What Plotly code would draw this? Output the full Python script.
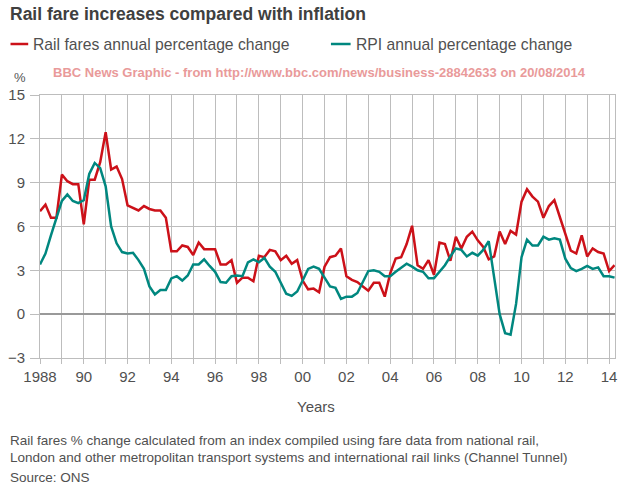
import plotly.graph_objects as go

# Quarterly annual % change, 1988 Q1 .. 2014 Q2
rail_fares = [
    7.05, 7.5, 6.6, 6.6,
    9.55, 9.1, 8.9, 8.9,
    6.15, 9.2, 9.2, 10.4,
    12.45, 9.9, 10.1, 9.25,
    7.45, 7.25, 7.1, 7.4,
    7.2, 7.1, 7.1, 6.6,
    4.3, 4.3, 4.7, 4.6,
    4.05, 4.9, 4.45, 4.45,
    4.45, 3.4, 3.4, 3.7,
    2.15, 2.5, 2.5, 2.25,
    4.0, 3.9, 4.4, 4.3,
    3.7, 4.0, 3.45, 3.7,
    2.3, 1.7, 1.75, 1.5,
    3.25, 3.9, 4.0, 4.5,
    2.6, 2.35, 2.2, 1.9,
    1.6, 2.15, 2.15, 1.2,
    2.8, 3.8, 3.9, 4.8,
    6.05, 3.35, 3.1, 3.7,
    2.7, 4.9, 4.8, 3.65,
    5.3, 4.5, 5.3, 5.65,
    5.05, 4.6, 3.75, 3.95,
    5.65, 4.8, 5.7, 5.45,
    7.7, 8.55, 8.05, 7.7,
    6.6, 7.4, 7.8, 6.65,
    5.5, 4.35, 4.15, 5.4,
    3.95, 4.5, 4.25, 4.15,
    2.95, 3.35,
]

rpi = [
    3.4, 4.15, 5.4, 6.55,
    7.75, 8.2, 7.75, 7.6,
    7.8, 9.6, 10.35, 10.0,
    8.75, 6.0, 4.85, 4.25,
    4.15, 4.2, 3.7, 3.1,
    1.9, 1.35, 1.65, 1.65,
    2.45, 2.6, 2.3, 2.65,
    3.4, 3.4, 3.75, 3.3,
    2.9, 2.2, 2.15, 2.6,
    2.65, 2.6, 3.55, 3.75,
    3.55, 3.85, 3.25, 2.9,
    2.2, 1.4, 1.25, 1.55,
    2.3, 3.1, 3.25, 3.1,
    2.5, 1.9, 1.8, 1.05,
    1.2, 1.2, 1.45, 2.2,
    2.95, 3.0, 2.9, 2.6,
    2.6, 2.9, 3.2, 3.45,
    3.25, 3.0, 2.9, 2.45,
    2.45, 2.9, 3.35, 3.95,
    4.5, 4.4, 3.95, 4.2,
    4.0, 4.4, 5.0, 2.5,
    0.0, -1.3, -1.4, 0.7,
    3.9, 5.1, 4.7, 4.7,
    5.3, 5.1, 5.2, 5.1,
    3.8, 3.15, 2.95, 3.1,
    3.3, 3.1, 3.2, 2.6,
    2.6, 2.5,
]

start_year = 1988
quarters = [start_year + i / 4 for i in range(len(rail_fares))]

x_tick_vals = list(range(1988, 2015, 2))
x_tick_text = ["1988", "90", "92", "94", "96", "98", "00", "02", "04", "06", "08", "10", "12", "14"]
y_tick_vals = [-3, 0, 3, 6, 9, 12, 15]

RED = "#cc1119"
TEAL = "#00877f"
GRID = "#bdbdbd"
FONT = "Liberation Sans, Arial, Helvetica, sans-serif"

W, H = 625, 487
L, R, T, B = 32, 8, 95, 129
PW, PH = W - L - R, H - T - B


def px_x(p):
    return (p - L) / PW


def px_y(p):
    return (H - B - p) / PH


fig = go.Figure()
fig.add_trace(go.Scatter(x=quarters, y=rail_fares, mode="lines",
                         line=dict(color=RED, width=2.5),
                         name="Rail fares annual percentage change", showlegend=False))
fig.add_trace(go.Scatter(x=quarters, y=rpi, mode="lines",
                         line=dict(color=TEAL, width=2.5),
                         name="RPI annual percentage change", showlegend=False))

annotations = [
    dict(text="<b>Rail fare increases compared with inflation</b>", x=px_x(-1), y=px_y(14),
         font=dict(size=17.5, color="#404040", family=FONT)),
    dict(text="Rail fares annual percentage change", x=px_x(23), y=px_y(45),
         font=dict(size=15.7, color="#505050", family=FONT)),
    dict(text="RPI annual percentage change", x=px_x(351), y=px_y(45),
         font=dict(size=15.7, color="#505050", family=FONT)),
    dict(text="<b>BBC News Graphic - from http://www.bbc.com/news/business-28842633 on 20/08/2014</b>",
         x=px_x(43), y=px_y(73),
         font=dict(size=13, color="#e99a9a", family=FONT)),
    dict(text="%", x=px_x(4), y=px_y(77), font=dict(size=13, color="#555555", family=FONT)),
    dict(text="Years", x=px_x(313), y=px_y(406), xanchor="center",
         font=dict(size=15, color="#505050", family=FONT)),
    dict(text="Rail fares % change calculated from an index compiled using fare data from national rail,",
         x=px_x(-1), y=px_y(440), font=dict(size=13.5, color="#505050", family=FONT)),
    dict(text="London and other metropolitan transport systems and international rail links (Channel Tunnel)",
         x=px_x(-1), y=px_y(457), font=dict(size=13.5, color="#505050", family=FONT)),
    dict(text="Source: ONS", x=px_x(-1), y=px_y(477), font=dict(size=13.5, color="#505050", family=FONT)),
]
for a in annotations:
    a.setdefault("xanchor", "left")
    a.update(xref="paper", yref="paper", yanchor="middle", showarrow=False)

shapes = [
    dict(type="line", xref="paper", yref="paper", x0=px_x(2), x1=px_x(20), y0=px_y(44), y1=px_y(44),
         line=dict(color=RED, width=2.5)),
    dict(type="line", xref="paper", yref="paper", x0=px_x(328), x1=px_x(348), y0=px_y(44), y1=px_y(44),
         line=dict(color=TEAL, width=2.5)),
]

fig.update_layout(
    width=W, height=H,
    margin=dict(l=L, r=R, t=T, b=B, pad=0),
    paper_bgcolor="white", plot_bgcolor="white",
    annotations=annotations, shapes=shapes,
    xaxis=dict(
        range=[1988, 2014.27], tickvals=x_tick_vals, ticktext=x_tick_text,
        showgrid=True, gridcolor=GRID, gridwidth=1,
        ticks="outside", ticklen=5, tickcolor=GRID,
        minor=dict(dtick=1, showgrid=True, gridcolor=GRID, ticks="outside", ticklen=5, tickcolor=GRID),
        showline=True, mirror=True, linecolor=GRID, linewidth=1,
        zeroline=False,
        tickfont=dict(size=15, color="#505050", family=FONT),
        fixedrange=True,
    ),
    yaxis=dict(
        range=[-3, 15], tickvals=y_tick_vals,
        showgrid=True, gridcolor=GRID, gridwidth=1,
        ticks="outside", ticklen=9, tickcolor=GRID,
        showline=True, mirror=True, linecolor=GRID, linewidth=1,
        zeroline=True, zerolinecolor="#999999", zerolinewidth=2,
        tickfont=dict(size=15, color="#505050", family=FONT),
        ticklabelstandoff=2,
        fixedrange=True,
    ),
)

fig.write_html(
    "out.html",
    config={"displayModeBar": False},
    post_script="document.body.style.margin='0';document.body.style.padding='0';document.body.style.overflow='hidden';",
)
